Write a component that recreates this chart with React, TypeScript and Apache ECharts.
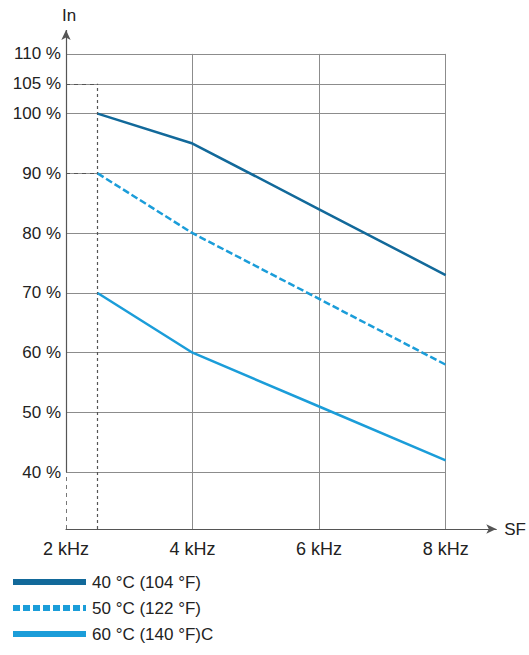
import React, { useEffect, useRef } from "react";
import * as echarts from "echarts";

// ---- data ----
const frequencies = [2.5, 4, 6, 8]; // kHz
const series40 = [100, 95, 84, 73];
const series50 = [90, 80, 69, 58];
const series60 = [70, 60, 51, 42];
const seriesNames = ["40 °C (104 °F)", "50 °C (122 °F)", "60 °C (140 °F)C"];
const yTickValues = [40, 50, 60, 70, 80, 90, 100, 105, 110];
const xTickValues = [2, 4, 6, 8];
const gridRowValues = [40, 50, 60, 70, 80, 90, 100, 105, 110];
const gridColValues = [4, 6, 8];
const refFreq = 2.5;
const refLevels = [105, 90];

const X_MIN = 2;
const X_MAX = 8.8;
const Y_MIN = 30.5;
const Y_MAX = 114;
const Y_TOP_GRID = 110;
const Y_SOLID_FROM = 40;

const DARK = "#12699a";
const LIGHT = "#1b9dd9";
const GRID = "#8c8c8c";
const REF = "#555555";
const FONT = "'Liberation Sans', Arial, sans-serif";

const pairs = (ys: number[]) => frequencies.map((f, i) => [f, ys[i]]);

export default function App() {
  const ref = useRef<HTMLDivElement>(null);
  useEffect(() => {
    document.body.style.margin = "0";
    if (!ref.current) return;
    const chart = echarts.init(ref.current, null, { renderer: "svg" });

    const gridLines: any[] = [];
    gridRowValues.forEach((v) =>
      gridLines.push([{ coord: [X_MIN, v] }, { coord: [xTickValues[xTickValues.length - 1], v] }])
    );
    gridColValues.forEach((v) =>
      gridLines.push([{ coord: [v, Y_MIN] }, { coord: [v, Y_TOP_GRID] }])
    );

    const option: any = {
      animation: false,
      textStyle: { fontFamily: FONT },
      grid: { left: 66, right: 31, top: 30, bottom: 126, containLabel: false },
      xAxis: {
        type: "value",
        min: X_MIN,
        max: X_MAX,
        name: "SF",
        nameLocation: "end",
        nameGap: 8,
        nameTextStyle: { fontSize: 17, color: "#222", fontFamily: FONT },
        splitLine: { show: false },
        axisTick: { show: false },
        axisLine: {
          show: true,
          symbol: ["none", "arrow"],
          symbolSize: [7, 10],
          lineStyle: { color: "#555", width: 1.2 },
        },
        axisLabel: {
          customValues: xTickValues,
          formatter: (v: number) => `${v} kHz`,
          fontSize: 18,
          color: "#222",
          margin: 11,
          fontFamily: FONT,
        },
      },
      yAxis: {
        type: "value",
        min: Y_MIN,
        max: Y_MAX,
        name: "In",
        nameLocation: "end",
        nameGap: 6,
        nameTextStyle: { fontSize: 17, color: "#222", fontFamily: FONT, align: "left", padding: [0, 0, 0, -4] },
        splitLine: { show: false },
        axisTick: { show: false },
        axisLine: { show: false },
        axisLabel: {
          customValues: yTickValues,
          formatter: (v: number) => `${v} %`,
          fontSize: 17,
          color: "#222",
          margin: 5,
          fontFamily: FONT,
        },
      },
      legend: {
        orient: "vertical",
        left: 10,
        top: 572,
        padding: 0,
        itemWidth: 73,
        itemHeight: 6,
        itemGap: 6,
        data: seriesNames,
        textStyle: { fontSize: 17, color: "#222", fontFamily: FONT, padding: [0, 0, 0, 1], lineHeight: 20 },
        lineStyle: { width: 6 },
        itemStyle: { opacity: 0 },
        selectedMode: false,
      },
      series: [
        {
          type: "line",
          name: "grid",
          data: [],
          silent: true,
          markLine: {
            silent: true,
            symbol: "none",
            label: { show: false },
            lineStyle: { color: GRID, width: 1, type: "solid" },
            data: gridLines,
          },
        },
        {
          type: "line",
          name: "axis",
          data: [],
          silent: true,
          markLine: {
            silent: true,
            symbol: "none",
            label: { show: false },
            data: [
              [
                { coord: [X_MIN, Y_MIN], lineStyle: { color: "#777", width: 1, type: [4, 4] } },
                { coord: [X_MIN, Y_SOLID_FROM] },
              ],
              [
                { coord: [X_MIN, Y_SOLID_FROM], symbol: "none", lineStyle: { color: "#555", width: 1.2, type: "solid" } },
                { coord: [X_MIN, Y_MAX], symbol: "arrow", symbolSize: [7, 10] },
              ],
            ],
          },
        },
        {
          type: "line",
          name: "ref",
          data: [],
          silent: true,
          markLine: {
            silent: true,
            symbol: "none",
            label: { show: false },
            lineStyle: { color: REF, width: 1.2, type: [3, 3] },
            data: [
              [{ coord: [refFreq, Y_MIN] }, { coord: [refFreq, refLevels[0]] }],
              ...refLevels.map((l) => [{ coord: [X_MIN, l], lineStyle: { type: [4, 4] } }, { coord: [refFreq, l] }]),
            ],
          },
        },
        {
          type: "line",
          name: seriesNames[0],
          data: pairs(series40),
          symbol: "none",
          color: DARK,
          lineStyle: { color: DARK, width: 2.5 },
          z: 5,
        },
        {
          type: "line",
          name: seriesNames[1],
          data: pairs(series50),
          symbol: "none",
          color: LIGHT,
          lineStyle: { color: LIGHT, width: 2.5, type: [7, 3] },
          z: 5,
        },
        {
          type: "line",
          name: seriesNames[2],
          data: pairs(series60),
          symbol: "none",
          color: LIGHT,
          lineStyle: { color: LIGHT, width: 2.5 },
          z: 5,
        },
      ],
    };
    chart.setOption(option);
    return () => chart.dispose();
  }, []);
  return <div ref={ref} style={{ width: 529, height: 655 }} />;
}
